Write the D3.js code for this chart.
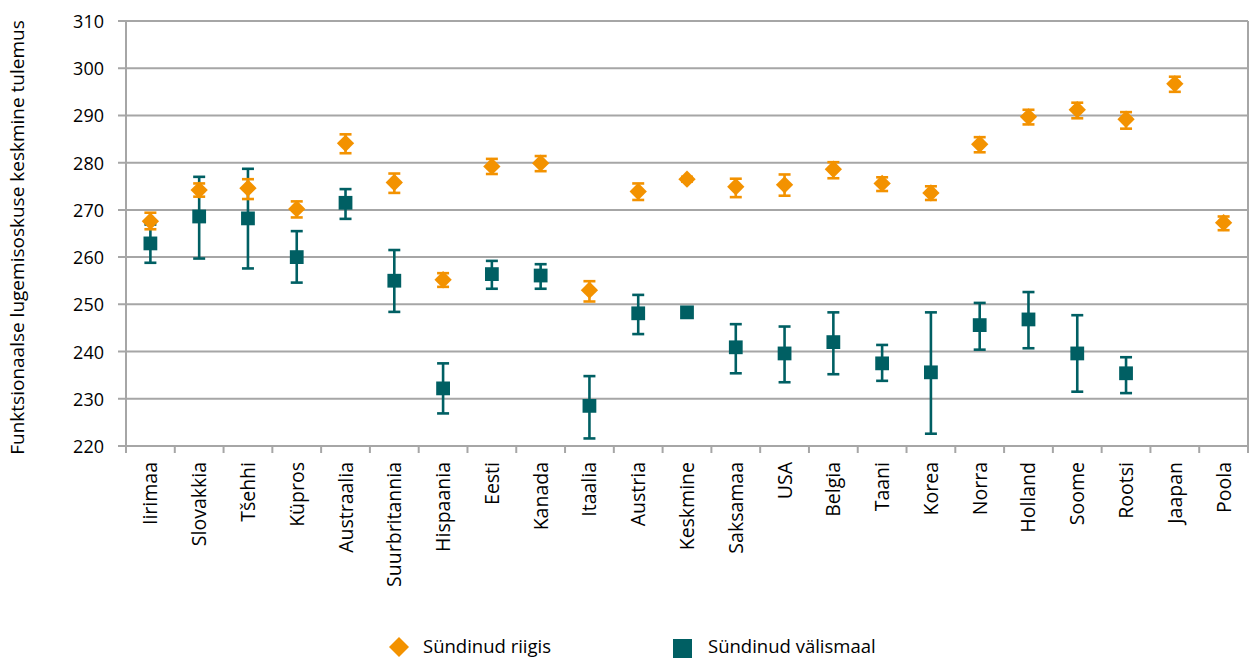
<!DOCTYPE html>
<html><head><meta charset="utf-8">
<script src="https://cdn.jsdelivr.net/npm/d3@7"></script>
<style>
body{margin:0;background:#fff;}
svg text{font-family:"Open Sans",Lato,sans-serif;fill:#000;}
</style></head>
<body><svg id="c" width="1249" height="659"></svg>
<script>
const categories = ["Iirimaa","Slovakkia","Tšehhi","Küpros","Austraalia","Suurbritannia","Hispaania","Eesti","Kanada","Itaalia","Austria","Keskmine","Saksamaa","USA","Belgia","Taani","Korea","Norra","Holland","Soome","Rootsi","Jaapan","Poola"];
const bornValue = [267.6,274.2,274.6,270.2,284.1,275.8,255.2,279.2,279.9,253.0,273.9,276.5,274.9,275.3,278.6,275.6,273.6,283.9,289.7,291.2,289.2,296.7,267.3];
const bornLow   = [265.9,272.8,272.3,268.4,282.0,273.6,253.7,277.6,278.2,250.6,272.1,276.0,272.7,273.0,276.7,274.0,272.1,282.2,288.1,289.4,287.2,295.0,265.7];
const bornHigh  = [269.4,275.6,276.5,271.8,286.0,277.7,256.6,280.8,281.4,254.9,275.6,277.0,276.6,277.5,280.1,276.9,275.0,285.4,291.2,292.7,290.7,298.2,268.6];
const abroadValue = [262.9,268.6,268.2,260.0,271.5,255.0,232.2,256.4,256.1,228.5,248.1,248.3,240.9,239.6,242.0,237.5,235.6,245.6,246.8,239.6,235.4,null,null];
const abroadLow   = [258.8,259.7,257.6,254.6,268.1,248.4,226.9,253.3,253.3,221.6,243.7,247.7,235.4,233.5,235.2,233.8,222.6,240.4,240.7,231.5,231.2,null,null];
const abroadHigh  = [266.9,277.0,278.7,265.5,274.4,261.5,237.5,259.2,258.5,234.8,252.0,248.9,245.8,245.3,248.3,241.4,248.3,250.3,252.6,247.7,238.8,null,null];
const yTicks = [220,230,240,250,260,270,280,290,300,310];
const seriesNames = ["Sündinud riigis","Sündinud välismaal"];
const colors = ["#F39200","#005F63"];

const svg = d3.select("#c");
const L=126, R=1248, T=21, B=446;
const x = d3.scaleBand().domain(categories).range([L,R]).padding(0);
const y = d3.scaleLinear().domain([220,310]).range([B,T]);
const grid="#A6A6A6";

svg.append("g").selectAll("line").data(yTicks).join("line")
  .attr("x1",L-8).attr("x2",R).attr("y1",d=>y(d)).attr("y2",d=>y(d))
  .attr("stroke",grid).attr("stroke-width",2);
svg.append("line").attr("x1",R).attr("x2",R).attr("y1",T).attr("y2",B).attr("stroke",grid).attr("stroke-width",2);
const ya = svg.append("g").attr("transform",`translate(${L},0)`).call(d3.axisLeft(y).tickValues(yTicks).tickSize(0).tickPadding(22));
ya.select(".domain").remove();
ya.selectAll("text").style("font-size","18px").style("font-family","'Open Sans',sans-serif").attr("dy","0.36em");
const tickPos = categories.map(c=>x(c)).concat([R]);
svg.append("g").selectAll("line").data(tickPos).join("line")
  .attr("x1",d=>d).attr("x2",d=>d).attr("y1",B).attr("y2",B+7).attr("stroke",grid).attr("stroke-width",2);
svg.append("line").attr("x1",L).attr("x2",R).attr("y1",B).attr("y2",B).attr("stroke",grid).attr("stroke-width",2);
svg.append("line").attr("x1",L).attr("x2",L).attr("y1",T).attr("y2",B+7).attr("stroke",grid).attr("stroke-width",2);
svg.append("g").selectAll("text").data(categories).join("text")
  .attr("transform",d=>`translate(${x(d)+x.bandwidth()/2+7},${B+16}) rotate(-90)`)
  .attr("text-anchor","end").style("font-size","19.5px").text(d=>d);
svg.append("text").attr("transform",`translate(24,${(T+B)/2+4}) rotate(-90)`).attr("text-anchor","middle")
  .style("font-size","19px").text("Funktsionaalse lugemisoskuse keskmine tulemus");

const cx = d=>x(d)+x.bandwidth()/2;
function errorBars(vals,lo,hi,color){
  const g=svg.append("g");
  const idx=categories.map((c,i)=>i).filter(i=>vals[i]!=null);
  g.selectAll(".v").data(idx).join("line").attr("x1",i=>cx(categories[i])).attr("x2",i=>cx(categories[i]))
    .attr("y1",i=>y(lo[i])).attr("y2",i=>y(hi[i])).attr("stroke",color).attr("stroke-width",2.6);
  [lo,hi].forEach(a=>{
    g.selectAll(null).data(idx).join("line").attr("x1",i=>cx(categories[i])-6).attr("x2",i=>cx(categories[i])+6)
      .attr("y1",i=>y(a[i])).attr("y2",i=>y(a[i])).attr("stroke",color).attr("stroke-width",2.6);
  });
  return idx;
}
const diamondType={draw(ctx,size){const r=Math.sqrt(size/2);ctx.moveTo(0,-r);ctx.lineTo(r,0);ctx.lineTo(0,r);ctx.lineTo(-r,0);ctx.closePath();}};
const sq=d3.symbol().type(d3.symbolSquare).size(190);
const dm=d3.symbol().type(diamondType).size(150);
const ia=errorBars(abroadValue,abroadLow,abroadHigh,colors[1]);
svg.append("g").selectAll("path").data(ia).join("path").attr("d",sq)
  .attr("transform",i=>`translate(${cx(categories[i])},${y(abroadValue[i])})`).attr("fill",colors[1]);
const ib=errorBars(bornValue,bornLow,bornHigh,colors[0]);
svg.append("g").selectAll("path").data(ib).join("path").attr("d",dm)
  .attr("transform",i=>`translate(${cx(categories[i])},${y(bornValue[i])})`).attr("fill",colors[0]);

const lg=svg.append("g");
lg.append("path").attr("d",d3.symbol().type(diamondType).size(200)).attr("transform","translate(399,647)").attr("fill",colors[0]);
lg.append("text").attr("x",423).attr("y",653).style("font-size","18.5px").text(seriesNames[0]);
lg.append("rect").attr("x",673).attr("y",639).attr("width",19).attr("height",19).attr("fill",colors[1]);
lg.append("text").attr("x",708).attr("y",653).style("font-size","18.5px").text(seriesNames[1]);
</script></body></html>
